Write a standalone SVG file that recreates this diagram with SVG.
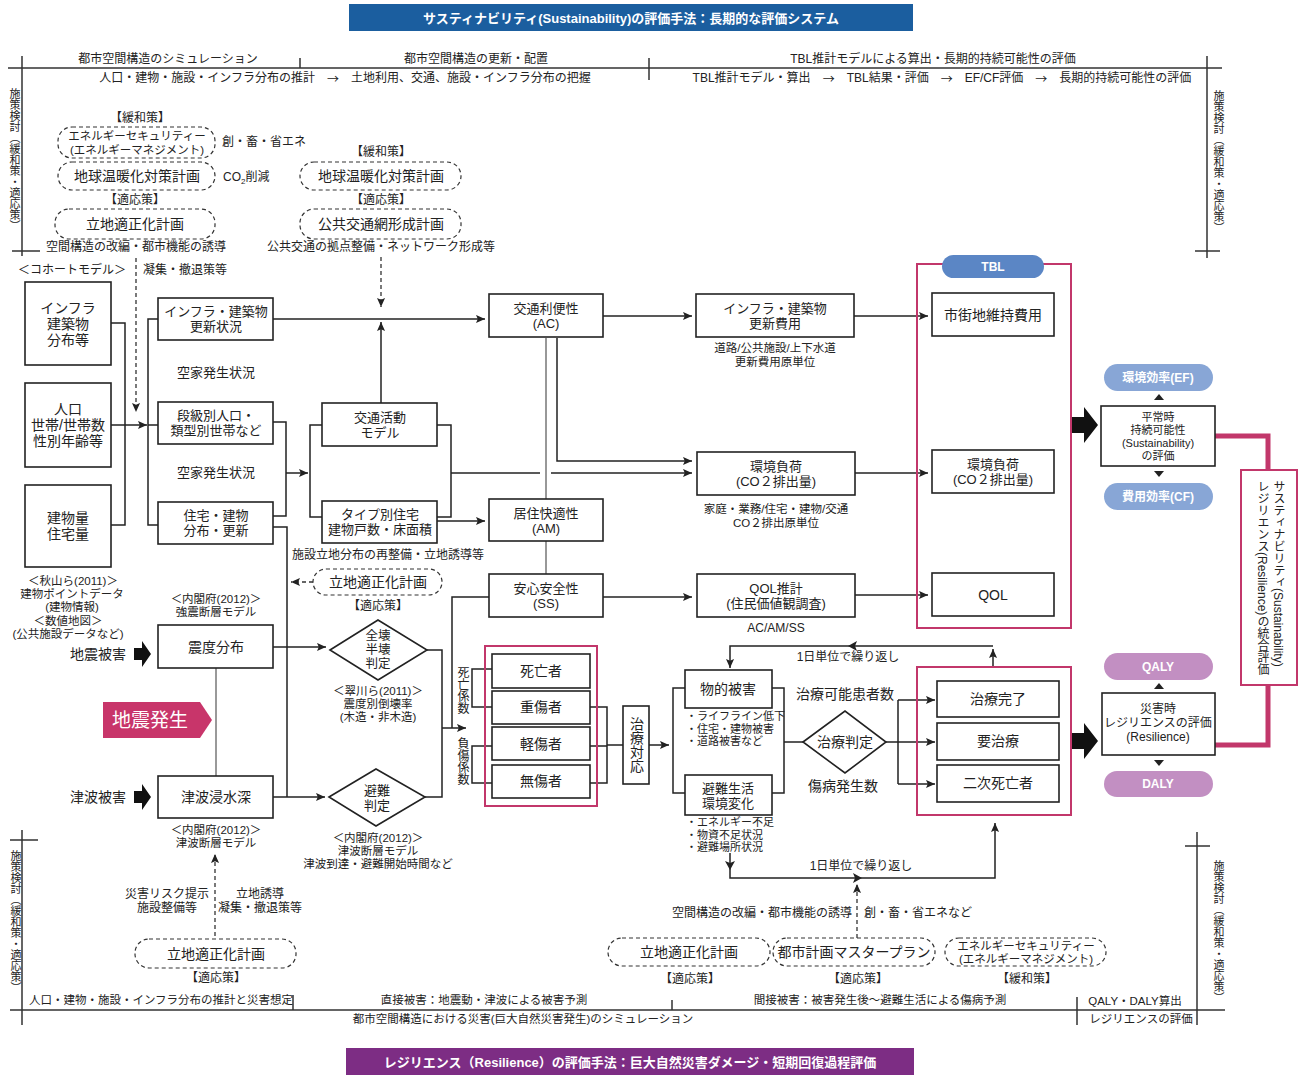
<svg xmlns="http://www.w3.org/2000/svg" width="1303" height="1075" viewBox="0 0 1303 1075">
<style>
text{font-family:"Liberation Sans","Noto Sans CJK JP",sans-serif;fill:#222;text-anchor:middle;dominant-baseline:central}
.t14{font-size:14px}.t13{font-size:13px}.t12{font-size:12px}.t11{font-size:11.5px}.t10{font-size:11px}.t15{font-size:14px}.t125{font-size:12.5px}
.st{text-anchor:start}
.v{writing-mode:vertical-rl;text-anchor:start}
.ar{font-family:"Noto Sans CJK JP",sans-serif}
.box{fill:#fff;stroke:#222;stroke-width:1.6}
.dbox{fill:#fff;stroke:#333;stroke-width:1.2;stroke-dasharray:4 3}
.ln{fill:none;stroke:#222;stroke-width:1.5}
.gl{fill:none;stroke:#777;stroke-width:1.5}
.dl{fill:none;stroke:#333;stroke-width:1.3;stroke-dasharray:4 3}
.pk{fill:none;stroke:#c2376b;stroke-width:2}
.pkt{fill:none;stroke:#c2376b;stroke-width:5}
.fr{fill:none;stroke:#333;stroke-width:1.5}
.wt{fill:#fff;font-weight:bold}
</style>
<defs>
<marker id="a" viewBox="0 0 10 10" refX="10" refY="5" markerWidth="10" markerHeight="9" orient="auto" markerUnits="userSpaceOnUse"><path d="M0,0.5 L10,5 L0,9.5 L2,5 z" fill="#222"/></marker>
</defs>

<!-- banners -->
<g id="banner-top"><rect x="349" y="4" width="564" height="27" fill="#1b5e9f"/><text x="631" y="18" class="t13 wt">サスティナビリティ(Sustainability)の評価手法：長期的な評価システム</text></g>
<g id="banner-bottom"><rect x="346" y="1048" width="568" height="27" fill="#7d2d84"/><text x="630" y="1062" class="t13 wt">レジリエンス（Resilience）の評価手法：巨大自然災害ダメージ・短期回復過程評価</text></g>

<!-- frames -->
<g id="frame-top">
<path class="fr" d="M8,68 H1222 M22,56 V256 M12,251 H40 M300,58 V68 M649,58 V80 M1207,56 V258 M1195,251 H1220"/>
<text x="168" y="59" class="t12">都市空間構造のシミュレーション</text>
<text x="476" y="59" class="t12">都市空間構造の更新・配置</text>
<text x="933" y="59" class="t12">TBL推計モデルによる算出・長期的持続可能性の評価</text>
<text x="345" y="78" class="t12">人口・建物・施設・インフラ分布の推計　<tspan class="ar">→</tspan>　土地利用、交通、施設・インフラ分布の把握</text>
<text x="942" y="78" class="t12">TBL推計モデル・算出　<tspan class="ar">→</tspan>　TBL結果・評価　<tspan class="ar">→</tspan>　EF/CF評価　<tspan class="ar">→</tspan>　長期的持続可能性の評価</text>
<text x="14" y="88" class="t10 v">施策検討（緩和策・適応策）</text>
<text x="1218" y="90" class="t10 v">施策検討（緩和策・適応策）</text>
</g>
<g id="frame-bottom">
<path class="fr" d="M22,830 V1025 M10,840 H38 M10,1010 H1225 M293,995 V1010 M672,1000 V1010 M1077,997 V1025 M1197,832 V1025 M1185,846 H1210"/>
<text x="15" y="850" class="t10 v">施策検討（緩和策・適応策）</text>
<text x="1218" y="860" class="t10 v">施策検討（緩和策・適応策）</text>
<text x="161" y="1000" class="t11">人口・建物・施設・インフラ分布の推計と災害想定</text>
<text x="484" y="1000" class="t11">直接被害：地震動・津波による被害予測</text>
<text x="880" y="1000" class="t11">間接被害：被害発生後〜避難生活による傷病予測</text>
<text x="1135" y="1001" class="t11">QALY・DALY算出</text>
<text x="1141" y="1019" class="t11">レジリエンスの評価</text>
<text x="523" y="1019" class="t11">都市空間構造における災害(巨大自然災害発生)のシミュレーション</text>
</g>

<!-- policy annotations top -->
<g id="policy-left">
<text x="140" y="118" class="t12">【緩和策】</text>
<rect class="dbox" x="58" y="127" width="157" height="31" rx="14"/>
<text x="137" y="136" class="t11">エネルギーセキュリティー<tspan x="137" dy="13.5">(エネルギーマネジメント)</tspan></text>
<text x="222" y="142" class="t12 st">創・畜・省エネ</text>
<rect class="dbox" x="58" y="162" width="157" height="28" rx="14"/>
<text x="137" y="176" class="t14">地球温暖化対策計画</text>
<text x="223" y="177" class="t12 st">CO<tspan font-size="8" baseline-shift="sub">2</tspan>削減</text>
<text x="135" y="200" class="t12">【適応策】</text>
<rect class="dbox" x="55" y="209" width="160" height="30" rx="14"/>
<text x="135" y="224" class="t14">立地適正化計画</text>
<text x="136" y="247" class="t12">空間構造の改編・都市機能の誘導</text>
<text x="72" y="270" class="t12">＜コホートモデル＞</text>
<text x="143" y="270" class="t12 st">凝集・撤退策等</text>
</g>
<g id="policy-mid">
<text x="381" y="152" class="t12">【緩和策】</text>
<rect class="dbox" x="300" y="162" width="161" height="28" rx="14"/>
<text x="381" y="176" class="t14">地球温暖化対策計画</text>
<text x="381" y="200" class="t12">【適応策】</text>
<rect class="dbox" x="300" y="209" width="161" height="30" rx="14"/>
<text x="381" y="224" class="t14">公共交通網形成計画</text>
<text x="381" y="247" class="t12">公共交通の拠点整備・ネットワーク形成等</text>
</g>

<!-- connectors -->
<g id="connectors">
<path class="dl" d="M136,258 V412" marker-end="url(#a)"/>
<path class="dl" d="M381,257 V307" marker-end="url(#a)"/>
<path class="ln" d="M111,323 H125 V525 H111"/>
<path class="ln" d="M111,425 H147" marker-end="url(#a)"/>
<path class="ln" d="M158,319 H148 V525 H158 M148,425 H158"/>
<path class="ln" d="M273,422 H286 V516 H273"/>
<path class="ln" d="M286,473 H308" marker-end="url(#a)"/>
<path class="ln" d="M322,425 H310 V517 H322"/>
<path class="ln" d="M437,425 H451 V517 H437"/>
<path class="ln" d="M451,473 H540"/>
<path class="ln" d="M551,473 H692" marker-end="url(#a)"/>
<path class="ln" d="M437,521 H485" marker-end="url(#a)"/>
<path class="ln" d="M381,403 V322" marker-end="url(#a)"/>
<path class="ln" d="M273,319 H485" marker-end="url(#a)"/>
<path class="ln" d="M273,527 H287 V797"/>
<path class="ln" d="M273,647 H326" marker-end="url(#a)"/>
<path class="ln" d="M273,797 H325" marker-end="url(#a)"/>
<path class="dl" d="M313,582 H291" marker-end="url(#a)"/>
<path class="gl" d="M216,668 V776"/>
<path class="ln" d="M427,650 H442 V797 H425"/>
<path class="ln" d="M442,728 H466" marker-end="url(#a)"/>
<path class="ln" d="M452,728 V597 H489"/>
<path class="gl" d="M546,338 V499 M546,541 V574"/>
<path class="ln" d="M557,338 V461 H692" marker-end="url(#a)"/>
<path class="ln" d="M603,316 H692" marker-end="url(#a)"/>
<path class="ln" d="M603,597 H692" marker-end="url(#a)"/>
<path class="ln" d="M854,316 H928" marker-end="url(#a)"/>
<path class="ln" d="M855,473 H928" marker-end="url(#a)"/>
<path class="ln" d="M855,595 H928" marker-end="url(#a)"/>
<path class="ln" d="M492,669 H472 V707 H492 M492,746 H472 V783 H492"/>
<path class="ln" d="M590,707 H607 V783 H590 M590,746 H607 M607,745 H623"/>
<path class="ln" d="M649,745 H669" marker-end="url(#a)"/>
<path class="ln" d="M685,688 H673 V793 H685"/>
<path class="ln" d="M772,688 H784 V793 H772 M784,742 H803"/>
<path class="ln" d="M886,742 H898 M898,700 V784"/>
<path class="ln" d="M898,700 H935" marker-end="url(#a)"/>
<path class="ln" d="M898,742 H935" marker-end="url(#a)"/>
<path class="ln" d="M898,784 H935" marker-end="url(#a)"/>
<path class="ln" d="M993,667 V649" marker-end="url(#a)"/>
<path class="ln" d="M993,646 H730 V668" marker-end="url(#a)"/>
<polygon points="848,646 857,641 855,646 857,651" fill="#222"/>
<path class="ln" d="M730,853 V878 H995 V823" marker-end="url(#a)"/>
<polygon points="730,870 725,861 730,863 735,861" fill="#222"/>
<polygon points="862,878 853,873 855,878 853,883" fill="#222"/>
<path class="dl" d="M857,938 V884" marker-end="url(#a)"/>
<path class="dl" d="M215,936 V854" marker-end="url(#a)"/>
<path class="pkt" d="M1215,436 H1268 V470 M1215,745 H1268 V685"/>
<polygon points="1072,417 1084,417 1084,407 1098,425 1084,443 1084,433 1072,433" fill="#111"/>
<polygon points="1072,733 1084,733 1084,723 1098,741 1084,759 1084,749 1072,749" fill="#111"/>
<polygon points="134,648 142,648 142,641 151,654 142,667 142,660 134,660" fill="#111"/>
<polygon points="134,791 142,791 142,784 151,797 142,810 142,803 134,803" fill="#111"/>
<polygon points="1154,400 1159,394 1164,400" fill="#222"/>
<polygon points="1154,471 1159,477 1164,471" fill="#222"/>
<polygon points="1154,689 1159,683 1164,689" fill="#222"/>
<polygon points="1154,760 1159,766 1164,760" fill="#222"/>
</g>

<!-- left input boxes -->
<g id="n-infra-dist"><rect class="box" x="25" y="282" width="86" height="83"/><text x="68" y="308" class="t15">インフラ<tspan x="68" dy="16">建築物</tspan><tspan x="68" dy="16">分布等</tspan></text></g>
<g id="n-population"><rect class="box" x="25" y="383" width="86" height="84"/><text x="68" y="409" class="t15">人口<tspan x="68" dy="16">世帯/世帯数</tspan><tspan x="68" dy="16">性別年齢等</tspan></text></g>
<g id="n-building-vol"><rect class="box" x="25" y="485" width="86" height="82"/><text x="68" y="518" class="t15">建物量<tspan x="68" dy="16">住宅量</tspan></text></g>

<g id="n-infra-update"><rect class="box" x="158" y="298" width="115" height="42"/><text x="216" y="311" class="t13">インフラ・建築物<tspan x="216" dy="15">更新状況</tspan></text></g>
<text x="216" y="372" class="t13">空家発生状況</text>
<g id="n-age-pop"><rect class="box" x="158" y="402" width="115" height="42"/><text x="216" y="415" class="t13">段級別人口・<tspan x="216" dy="15">類型別世帯など</tspan></text></g>
<text x="216" y="472" class="t13">空家発生状況</text>
<g id="n-housing"><rect class="box" x="158" y="502" width="115" height="42"/><text x="216" y="515" class="t13">住宅・建物<tspan x="216" dy="15">分布・更新</tspan></text></g>

<g id="n-traffic-model"><rect class="box" x="322" y="403" width="115" height="43"/><text x="380" y="417" class="t13">交通活動<tspan x="380" dy="15">モデル</tspan></text></g>
<g id="n-type-housing"><rect class="box" x="322" y="501" width="115" height="42"/><text x="380" y="514" class="t13">タイプ別住宅<tspan x="380" dy="15">建物戸数・床面積</tspan></text></g>
<text x="388" y="555" class="t12">施設立地分布の再整備・立地誘導等</text>
<g id="n-plan-mid"><rect class="dbox" x="313" y="569" width="129" height="26" rx="13"/><text x="378" y="582" class="t14">立地適正化計画</text><text x="378" y="606" class="t12">【適応策】</text></g>

<g id="n-ac"><rect class="box" x="489" y="294" width="114" height="43"/><text x="546" y="308" class="t13">交通利便性<tspan x="546" dy="15">(AC)</tspan></text></g>
<g id="n-am"><rect class="box" x="489" y="499" width="114" height="42"/><text x="546" y="513" class="t13">居住快適性<tspan x="546" dy="15">(AM)</tspan></text></g>
<g id="n-ss"><rect class="box" x="489" y="574" width="114" height="43"/><text x="546" y="588" class="t13">安心安全性<tspan x="546" dy="15">(SS)</tspan></text></g>

<g id="n-update-cost"><rect class="box" x="696" y="294" width="158" height="43"/><text x="775" y="308" class="t13">インフラ・建築物<tspan x="775" dy="15">更新費用</tspan></text><text x="775" y="348" class="t11">道路/公共施設/上下水道<tspan x="775" dy="14">更新費用原単位</tspan></text></g>
<g id="n-env-load"><rect class="box" x="697" y="452" width="158" height="43"/><text x="776" y="466" class="t13">環境負荷<tspan x="776" dy="15">(CO２排出量)</tspan></text><text x="776" y="509" class="t11">家庭・業務/住宅・建物/交通<tspan x="776" dy="14">CO２排出原単位</tspan></text></g>
<g id="n-qol-est"><rect class="box" x="697" y="574" width="158" height="43"/><text x="776" y="588" class="t13">QOL推計<tspan x="776" dy="15">(住民価値観調査)</tspan></text><text x="776" y="628" class="t12">AC/AM/SS</text></g>

<g id="n-tbl">
<rect class="pk" x="917" y="264" width="154" height="364"/>
<rect x="942" y="255" width="102" height="23" rx="11.5" fill="#5b86c5"/><text x="993" y="267" class="t12 wt">TBL</text>
<rect class="box" x="932" y="293" width="122" height="43"/><text x="993" y="315" class="t14">市街地維持費用</text>
<rect class="box" x="932" y="450" width="122" height="43"/><text x="993" y="464" class="t13">環境負荷<tspan x="993" dy="15">(CO２排出量)</tspan></text>
<rect class="box" x="932" y="573" width="122" height="43"/><text x="993" y="595" class="t14">QOL</text>
</g>

<g id="n-ef"><rect x="1104" y="364" width="109" height="27" rx="13.5" fill="#88a6d6"/><text x="1158" y="378" class="t12 wt">環境効率(EF)</text></g>
<g id="n-sustain"><rect class="box" x="1101" y="406" width="114" height="60"/><text x="1158" y="417" class="t10">平常時<tspan x="1158" dy="13">持続可能性</tspan><tspan x="1158" dy="13">(Sustainability)</tspan><tspan x="1158" dy="13">の評価</tspan></text></g>
<g id="n-cf"><rect x="1104" y="483" width="109" height="27" rx="13.5" fill="#88a6d6"/><text x="1158" y="497" class="t12 wt">費用効率(CF)</text></g>

<g id="n-integrated"><rect x="1241" y="470" width="56" height="215" fill="#fff" stroke="#c2376b" stroke-width="2"/><text x="1278" y="480" class="t12 v">サスティナビリティ(Sustainability)</text><text x="1262" y="480" class="t12 v">レジリエンス(Resilience)の統合評価</text></g>

<!-- disaster part -->
<g id="n-refs-left">
<text x="73" y="581" class="t11">＜秋山ら(2011)＞<tspan x="72" dy="13">建物ポイントデータ</tspan><tspan x="72" dy="13">(建物情報)</tspan><tspan x="68" dy="14">＜数値地図＞</tspan><tspan x="68" dy="13">(公共施設データなど)</tspan></text>
<text x="216" y="599" class="t11">＜内閣府(2012)＞<tspan x="216" dy="13">強震断層モデル</tspan></text>
<text x="98" y="654" class="t14">地震被害</text>
<text x="98" y="797" class="t14">津波被害</text>
</g>
<g id="n-seismic"><rect class="box" x="158" y="625" width="115" height="43"/><text x="216" y="647" class="t14">震度分布</text></g>
<g id="n-quake"><polygon points="103,702 200,702 212,720 200,738 103,738" fill="#c8356a"/><text x="150" y="720" style="font-size:19px;fill:#fff">地震発生</text></g>
<g id="n-tsunami"><rect class="box" x="158" y="776" width="115" height="42"/><text x="216" y="797" class="t14">津波浸水深</text><text x="216" y="830" class="t11">＜内閣府(2012)＞<tspan x="216" dy="13">津波断層モデル</tspan></text></g>
<g id="n-collapse"><polygon class="box" points="330,650 378,620 427,650 378,680"/><text x="378" y="636" class="t125">全壊<tspan x="378" dy="14">半壊</tspan><tspan x="378" dy="14">判定</tspan></text><text x="378" y="691" class="t11">＜翠川ら(2011)＞<tspan x="378" dy="13">震度別倒壊率</tspan><tspan x="378" dy="13">(木造・非木造)</tspan></text></g>
<g id="n-evac"><polygon class="box" points="329,797 376,769 425,797 376,826"/><text x="377" y="790" class="t13">避難<tspan x="377" dy="15">判定</tspan></text><text x="378" y="838" class="t11">＜内閣府(2012)＞<tspan x="378" dy="13">津波断層モデル</tspan><tspan x="378" dy="13">津波到達・避難開始時間など</tspan></text></g>
<text x="462" y="666" class="t12 v">死亡係数</text>
<text x="462" y="737" class="t12 v">負傷係数</text>

<g id="n-casualty">
<rect class="pk" x="485" y="646" width="112" height="160"/>
<rect class="box" x="492" y="654" width="98" height="34"/><text x="541" y="671" class="t14">死亡者</text>
<rect class="box" x="492" y="691" width="98" height="33"/><text x="541" y="707" class="t14">重傷者</text>
<rect class="box" x="492" y="727" width="98" height="33"/><text x="541" y="744" class="t14">軽傷者</text>
<rect class="box" x="492" y="765" width="98" height="33"/><text x="541" y="781" class="t14">無傷者</text>
</g>
<g id="n-treat-resp"><rect class="box" x="623" y="706" width="26" height="78"/><text x="636" y="717" class="t14 v">治療対応</text></g>
<g id="n-physical"><rect class="box" x="685" y="670" width="87" height="38"/><text x="728" y="689" class="t14">物的被害</text><text x="686" y="716" class="t10 st">・ライフライン低下<tspan x="686" dy="12.5">・住宅・建物被害</tspan><tspan x="686" dy="12.5">・道路被害など</tspan></text></g>
<g id="n-evac-life"><rect class="box" x="685" y="775" width="87" height="40"/><text x="728" y="788" class="t13">避難生活<tspan x="728" dy="15">環境変化</tspan></text><text x="686" y="822" class="t10 st">・エネルギー不足<tspan x="686" dy="12.5">・物資不足状況</tspan><tspan x="686" dy="12.5">・避難場所状況</tspan></text></g>
<text x="848" y="657" class="t12">1日単位で繰り返し</text>
<text x="861" y="866" class="t12">1日単位で繰り返し</text>
<g id="n-treat-judge"><polygon class="box" points="803,742 845,711 886,742 845,773"/><text x="845" y="742" class="t14">治療判定</text><text x="845" y="694" class="t14">治療可能患者数</text><text x="843" y="786" class="t14">傷病発生数</text></g>
<g id="n-outcome">
<rect class="pk" x="917" y="667" width="154" height="148"/>
<rect class="box" x="937" y="681" width="122" height="36"/><text x="998" y="699" class="t14">治療完了</text>
<rect class="box" x="937" y="723" width="122" height="37"/><text x="998" y="741" class="t14">要治療</text>
<rect class="box" x="937" y="765" width="122" height="37"/><text x="998" y="783" class="t14">二次死亡者</text>
</g>
<g id="n-qaly"><rect x="1104" y="653" width="109" height="27" rx="13.5" fill="#c28fc2"/><text x="1158" y="667" class="t12 wt">QALY</text></g>
<g id="n-resilience"><rect class="box" x="1102" y="693" width="113" height="62"/><text x="1158" y="709" class="t12">災害時<tspan x="1158" dy="14">レジリエンスの評価</tspan><tspan x="1158" dy="14">(Resilience)</tspan></text></g>
<g id="n-daly"><rect x="1104" y="771" width="109" height="26" rx="13" fill="#c28fc2"/><text x="1158" y="784" class="t12 wt">DALY</text></g>

<!-- bottom policy -->
<g id="policy-bottom-left">
<text x="167" y="894" class="t12">災害リスク提示<tspan x="167" dy="13.5">施設整備等</tspan></text>
<text x="260" y="894" class="t12">立地誘導<tspan x="260" dy="13.5">凝集・撤退策等</tspan></text>
<rect class="dbox" x="135" y="939" width="161" height="29" rx="14"/><text x="216" y="954" class="t14">立地適正化計画</text>
<text x="216" y="978" class="t12">【適応策】</text>
</g>
<g id="policy-bottom-right">
<text x="852" y="913" class="t12" style="text-anchor:end">空間構造の改編・都市機能の誘導</text>
<text x="864" y="913" class="t12 st">創・畜・省エネなど</text>
<rect class="dbox" x="608" y="938" width="162" height="28" rx="14"/><text x="689" y="952" class="t14">立地適正化計画</text><text x="690" y="979" class="t12">【適応策】</text>
<rect class="dbox" x="773" y="938" width="162" height="28" rx="14"/><text x="854" y="952" class="t14">都市計画マスタープラン</text><text x="858" y="979" class="t12">【適応策】</text>
<rect class="dbox" x="945" y="938" width="161" height="28" rx="14"/><text x="1026" y="945.5" class="t11">エネルギーセキュリティー<tspan x="1026" dy="13">(エネルギーマネジメント)</tspan></text><text x="1027" y="979" class="t12">【緩和策】</text>
</g>
</svg>
